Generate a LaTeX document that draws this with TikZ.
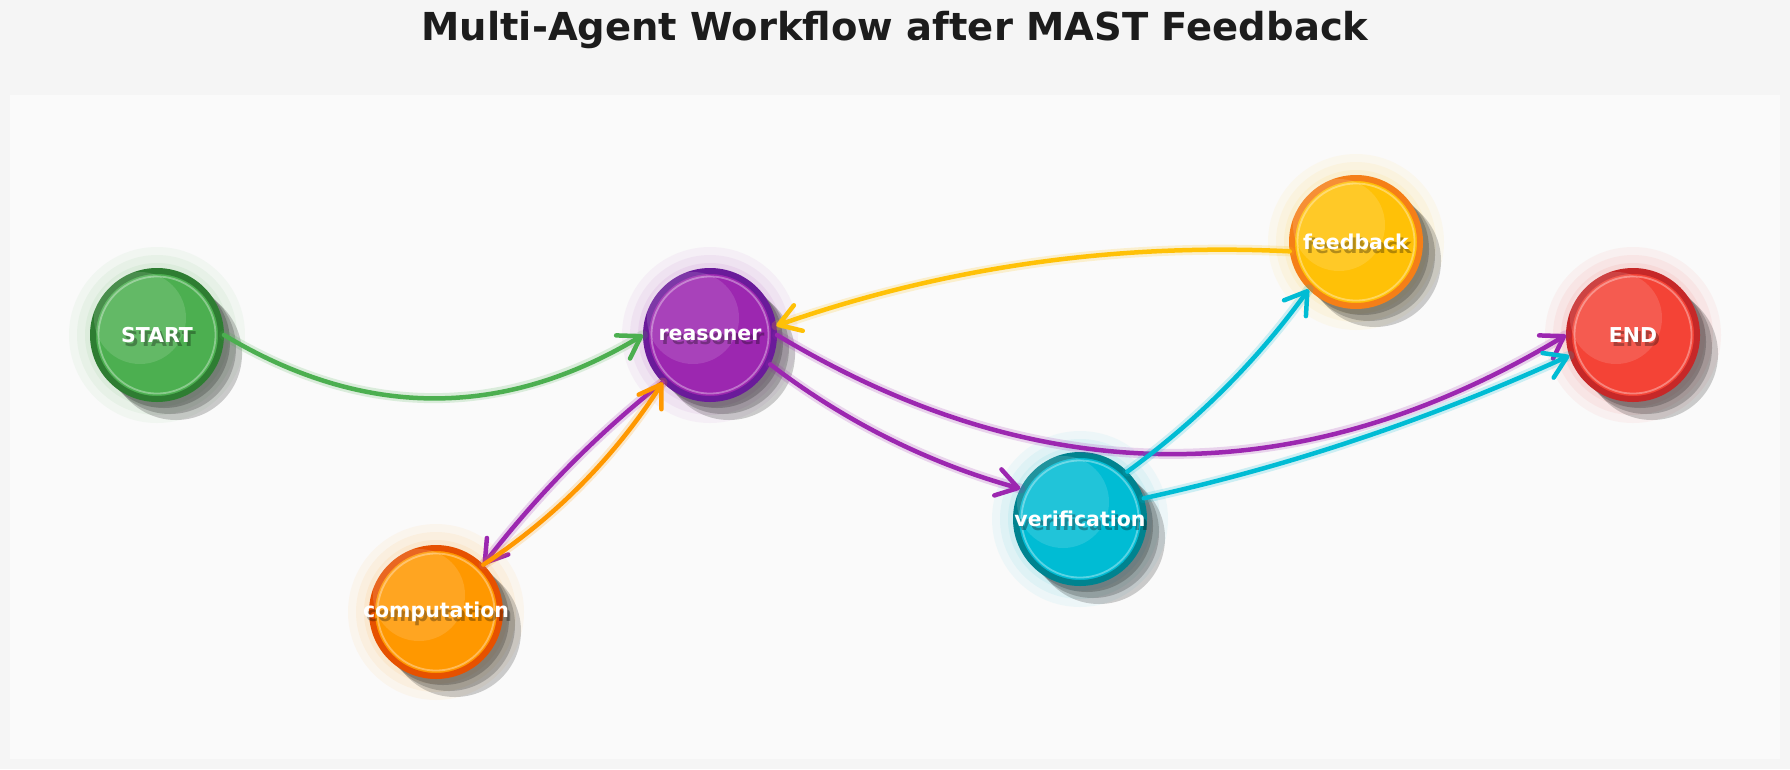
\documentclass[tikz,border=0pt]{standalone}
\usepackage{fontspec}
\setmainfont{DejaVu Sans}
\usetikzlibrary{arrows.meta}
\definecolor{bgout}{HTML}{F5F5F5}
\definecolor{panel}{HTML}{FAFAFA}
\definecolor{titlec}{HTML}{1C1C1C}
\definecolor{cgreen}{HTML}{4CAF50}\definecolor{dgreen}{HTML}{2E7D32}
\definecolor{cpurple}{HTML}{9C27B0}\definecolor{dpurple}{HTML}{6A1B9A}
\definecolor{corange}{HTML}{FF9800}\definecolor{dorange}{HTML}{E65100}
\definecolor{ccyan}{HTML}{00BCD4}\definecolor{dcyan}{HTML}{00838F}
\definecolor{camber}{HTML}{FFC107}\definecolor{damber}{HTML}{F57F17}
\definecolor{cred}{HTML}{F44336}\definecolor{dred}{HTML}{C62828}
\tikzset{
  anc/.style={circle, minimum size=134pt, inner sep=0pt, outer sep=0pt},
  lbl/.style={text=white, font=\fontsize{20.5}{24}\selectfont\bfseries, inner sep=0pt},
  lblsh/.style={text=black, text opacity=0.3, font=\fontsize{20.5}{24}\selectfont\bfseries, inner sep=0pt},
  titlestyle/.style={text=titlec, font=\fontsize{38.5}{44}\selectfont\bfseries, inner sep=0pt},
  halo/.style={line width=10pt, opacity=0.18, line cap=round},
  edgeline/.style={line width=4.5pt, line cap=round, -{Straight Barb[length=21pt,width=27pt,round]}},
}
\newcommand{\agent}[6]{%
  \begin{scope}[shift={(#2,-#3)}]
    \fill[#4, opacity=0.05] (0,0) circle (88);
    \fill[#4, opacity=0.06] (0,0) circle (80);
    \fill[#4, opacity=0.07] (0,0) circle (72);
    \fill[black, opacity=0.19] (19,-19) circle (66);
    \fill[black, opacity=0.19] (13,-13) circle (66);
    \fill[black, opacity=0.19] (7,-7) circle (66);
    \fill[#4, draw=#5, line width=6pt] (0,0) circle (64);
    \draw[white, opacity=0.35, line width=1.8pt] (0,0) circle (58.5);
    \fill[white, opacity=0.13] (-17,17) circle (46);
  \end{scope}
  \node[anc] (#1) at (#2,-#3) {};
  \node[lblsh] (#1-sh) at (#2+3,-#3-4) {#6};
  \node[lbl] (#1-lbl) at (#2,-#3) {#6};
}
\newcommand{\flow}[6]{%
  \draw[halo,#1] (#2) to[out=#4,in=#5,looseness=#6] (#3);
  \draw[edgeline,#1] (#2) to[out=#4,in=#5,looseness=#6] (#3);
}
\begin{document}
\begin{tikzpicture}[x=1pt,y=1pt]
\useasboundingbox (0,0) rectangle (1790,-769);
\fill[bgout] (0,0) rectangle (1790,-769);
\fill[panel] (10,-95) rectangle (1780,-759);
\node[titlestyle, anchor=base] (title) at (895,-40) {Multi-Agent Workflow after MAST Feedback};

\agent{start}{157}{335}{cgreen}{dgreen}{START}
\agent{reasoner}{710}{335}{cpurple}{dpurple}{reasoner}
\agent{comp}{436}{612}{corange}{dorange}{computation}
\agent{verif}{1080}{519}{ccyan}{dcyan}{verification}
\agent{feedback}{1356}{242}{camber}{damber}{feedback}
\agent{end}{1633}{335}{cred}{dred}{END}

\flow{cgreen}{start.0}{reasoner.180}{-31}{211}{1}
\flow{cpurple}{reasoner.225.3}{comp.45.3}{218.3}{52.3}{0.87}
\flow{corange}{comp.45.3}{reasoner.225.3}{33.3}{237.3}{0.87}
\flow{cpurple}{reasoner.-26.4}{verif.153.6}{-37.4}{164.6}{0.87}
\flow{cpurple}{reasoner.0}{end.180}{-31}{211}{1}
\flow{ccyan}{verif.45.1}{feedback.225.1}{36.1}{234.1}{0.87}
\flow{ccyan}{verif.18.4}{end.198.4}{12.4}{204.4}{0.87}
\flow{camber}{feedback.188.2}{reasoner.8.2}{177.2}{19.2}{0.87}
\end{tikzpicture}
\end{document}
